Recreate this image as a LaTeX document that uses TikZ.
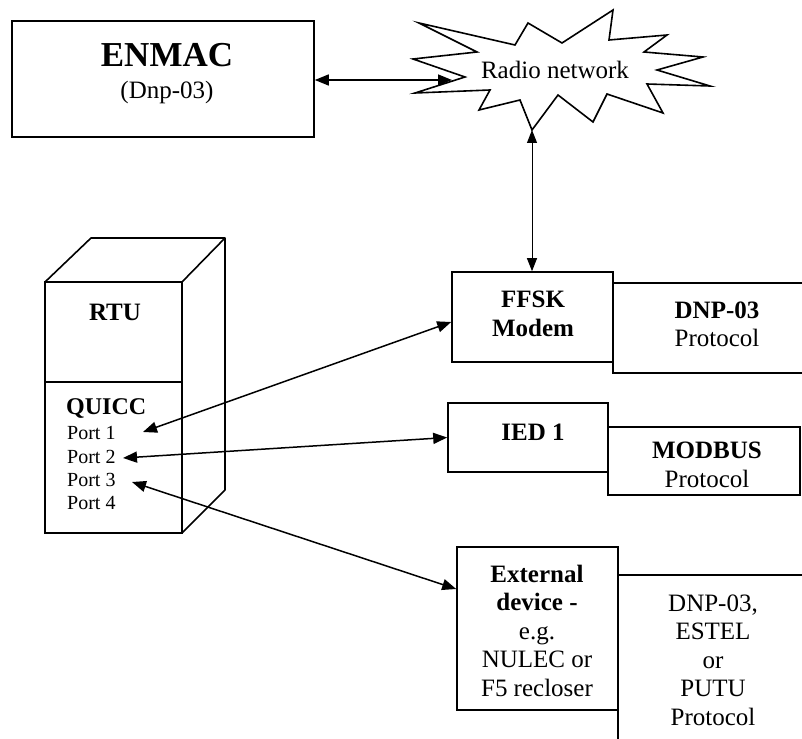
\documentclass[tikz,border=0pt]{standalone}
\usepackage{fontspec}
\setmainfont{Liberation Serif}
\usetikzlibrary{arrows.meta,calc}
\begin{document}
\begin{tikzpicture}[x=1pt,y=-1pt,
  box/.style={draw, line width=1.6pt, inner sep=0pt},
  txt/.style={inner sep=0pt, align=center, font=\fontsize{25}{28.5}\selectfont},
  ptxt/.style={inner sep=0pt, anchor=west, font=\fontsize{20}{24}\selectfont},
  link/.style={line width=1.5pt, {Triangle[length=14pt,width=11pt]}-{Triangle[length=14pt,width=11pt]}},
  thinlink/.style={line width=1pt, {Triangle[length=13pt,width=10pt]}-{Triangle[length=13pt,width=10pt]}},
]
\useasboundingbox (0,0) rectangle (802,738);
\clip (0,0) rectangle (802,738);

% ENMAC
\node[box, minimum width=302pt, minimum height=116pt] (enmac) at (163,79) {};
\node[inner sep=0pt, font=\fontsize{35}{40}\selectfont\bfseries] (enmacT) at (167,55) {ENMAC};
\node[txt] (enmacS) at (167,92) {(Dnp-03)};

% Radio network starburst
\draw[line width=1.6pt, line join=miter]
  (419,23) -- (515,45) -- (528,23) -- (562,43) -- (613,10) -- (609,40) -- (667,35)
  -- (644,52) -- (703,57) -- (657,70) -- (710,86) -- (647,84) -- (663,113)
  -- (607,94) -- (593,122) -- (558,95) -- (532,130) -- (520,100) -- (479,110)
  -- (490,90) -- (415,93) -- (465,77) -- (413,59) -- (477,52) -- cycle;
\node[txt] (radio) at (555,70) {Radio network};
\coordinate (radioL) at (452,80);
\coordinate (radioB) at (532,130);

% FFSK modem + DNP-03 protocol
\node[box, minimum width=208pt, minimum height=90pt] (dnp) at (717,328) {};
\node[box, fill=white, minimum width=161pt, minimum height=90pt] (ffsk) at (532.5,317) {};
\node[txt] (ffskT) at (533,314) {\textbf{FFSK}\\\textbf{Modem}};
\node[txt] (dnpT) at (717,324.5) {\textbf{DNP-03}\\Protocol};

% IED 1 + MODBUS
\node[box, minimum width=192pt, minimum height=68pt] (modbus) at (704,461) {};
\node[box, fill=white, minimum width=160pt, minimum height=69pt] (ied) at (528,437.5) {};
\node[txt] (iedT) at (533,432) {\textbf{IED 1}};
\node[txt] (modbusT) at (707,465) {\textbf{MODBUS}\\Protocol};

% External device + protocols
\node[box, minimum width=190pt, minimum height=170pt] (extp) at (713,660) {};
\node[box, fill=white, minimum width=161pt, minimum height=163pt] (ext) at (537.5,628.5) {};
\node[txt] (extT) at (537,630.5) {\textbf{External}\\\textbf{device -}\\e.g.\\NULEC or\\F5 recloser};
\node[txt] (extpT) at (713,660) {DNP-03,\\ESTEL\\or\\PUTU\\Protocol};

% RTU
\draw[line width=1.6pt, line join=round] (45,282) -- (91,238) -- (225,238) -- (225,490) -- (182,533);
\draw[line width=1.6pt] (225,238) -- (182,282);
\node[box, minimum width=137pt, minimum height=100pt] (rtu) at (113.5,332) {};
\node[box, minimum width=137pt, minimum height=151pt] (quicc) at (113.5,457.5) {};
\node[txt] (rtuT) at (115,312) {\textbf{RTU}};
\node[inner sep=0pt, anchor=west, font=\fontsize{24}{28}\selectfont\bfseries] (quiccT) at (66,408) {QUICC};
\node[ptxt] (port1) at (67,433) {Port 1};
\node[ptxt] (port2) at (67,457) {Port 2};
\node[ptxt] (port3) at (67,480) {Port 3};
\node[ptxt] (port4) at (67,503) {Port 4};
\coordinate (p1) at (143,432);
\coordinate (p2) at (123,458);
\coordinate (p3) at (132,482);

% Connectors
\draw[link] (enmac.east |- radioL) -- (radioL);
\draw[thinlink] (radioB) -- (ffsk.north -| radioB);
\draw[link] (p1) -- ($(ffsk.west)+(0,5)$);
\draw[link] (p2) -- (ied.west);
\draw[link] (p3) -- ($(ext.north west)!0.26!(ext.south west)$);
\end{tikzpicture}
\end{document}
